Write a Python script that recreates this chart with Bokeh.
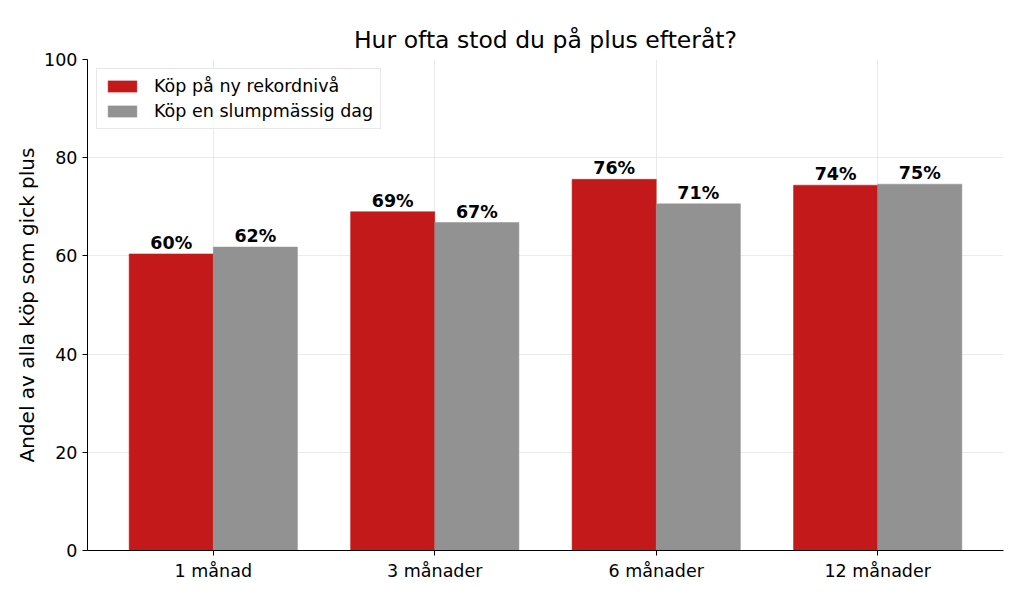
from bokeh.plotting import figure
from bokeh.models import ColumnDataSource, Legend, LegendItem, FixedTicker, Range1d
from bokeh.embed import file_html
from bokeh.resources import INLINE
from bokeh.core.properties import value

categories = ["1 månad", "3 månader", "6 månader", "12 månader"]
record_values = [60.4, 69.0, 75.6, 74.4]
random_values = [61.8, 66.8, 70.6, 74.6]
series_names = ["Köp på ny rekordnivå", "Köp en slumpmässig dag"]
y_ticks = [0, 20, 40, 60, 80, 100]

RED = "#c4191a"
GRAY = "#929292"
FONT = "DejaVu Sans"
W = 0.38

xs = list(range(len(categories)))
src_r = ColumnDataSource(dict(x=[i - W / 2 for i in xs], top=record_values,
                              lab=[f"{v:.0f}%" for v in record_values]))
src_g = ColumnDataSource(dict(x=[i + W / 2 for i in xs], top=random_values,
                              lab=[f"{v:.0f}%" for v in random_values]))

p = figure(width=1016, height=589, output_backend="svg", toolbar_location=None,
           x_range=Range1d(-0.568, 3.568), y_range=Range1d(0, 100),
           min_border_left=87, min_border_right=13, min_border_top=59, min_border_bottom=39)

p.title.text = "Hur ofta stod du på plus efteråt?"
p.title.align = "center"
p.title.vertical_align = "middle"
p.title.text_font = FONT
p.title.text_font_size = "23.5px"
p.title.text_font_style = "normal"
p.title.text_color = "#000000"
p.title.offset = 0
p.title.standoff = 10

r1 = p.vbar(x="x", top="top", width=W, bottom=0, source=src_r, fill_color=RED, line_color=RED, line_width=0.5)
r2 = p.vbar(x="x", top="top", width=W, bottom=0, source=src_g, fill_color=GRAY, line_color=GRAY, line_width=0.5)

for src in (src_r, src_g):
    p.text(x="x", y="top", text="lab", source=src, text_align="center", text_baseline="bottom",
           text_font=value(FONT), text_font_style="bold", text_font_size="17.5px",
           text_color="#000000", y_offset=-1)

p.xaxis.ticker = FixedTicker(ticks=xs)
p.xaxis.major_label_overrides = {i: c for i, c in enumerate(categories)}
p.yaxis.ticker = FixedTicker(ticks=y_ticks)
p.yaxis.axis_label = "Andel av alla köp som gick plus"
p.yaxis.axis_label_standoff = 2

for ax in (p.xaxis[0], p.yaxis[0]):
    ax.major_label_text_font = FONT
    ax.major_label_text_font_size = "17.5px"
    ax.major_label_text_color = "#000000"
    ax.axis_line_color = "#000000"
    ax.axis_line_width = 1
    ax.major_tick_line_color = "#000000"
    ax.major_tick_out = 5
    ax.major_tick_in = 0
    ax.minor_tick_line_color = None
    ax.axis_label_text_font = FONT
    ax.axis_label_text_font_size = "20px"
    ax.axis_label_text_font_style = "normal"
    ax.axis_label_text_color = "#000000"

p.xgrid.grid_line_color = "#e6e6e6"
p.ygrid.grid_line_color = "#e6e6e6"
p.xgrid.grid_line_width = 0.8
p.ygrid.grid_line_width = 0.8
p.outline_line_color = None

legend = Legend(items=[LegendItem(label=series_names[0], renderers=[r1]),
                       LegendItem(label=series_names[1], renderers=[r2])],
                location="top_left")
legend.label_text_font = FONT
legend.label_text_font_size = "17.5px"
legend.label_text_color = "#000000"
legend.glyph_width = 36
legend.glyph_height = 14
legend.label_standoff = 14
legend.spacing = 5
legend.padding = 7
legend.margin = 9
legend.border_line_color = "#d0d0d0"
legend.border_line_width = 1
legend.background_fill_alpha = 0.8
p.add_layout(legend)

open("out.html", "w").write(file_html(p, INLINE))
